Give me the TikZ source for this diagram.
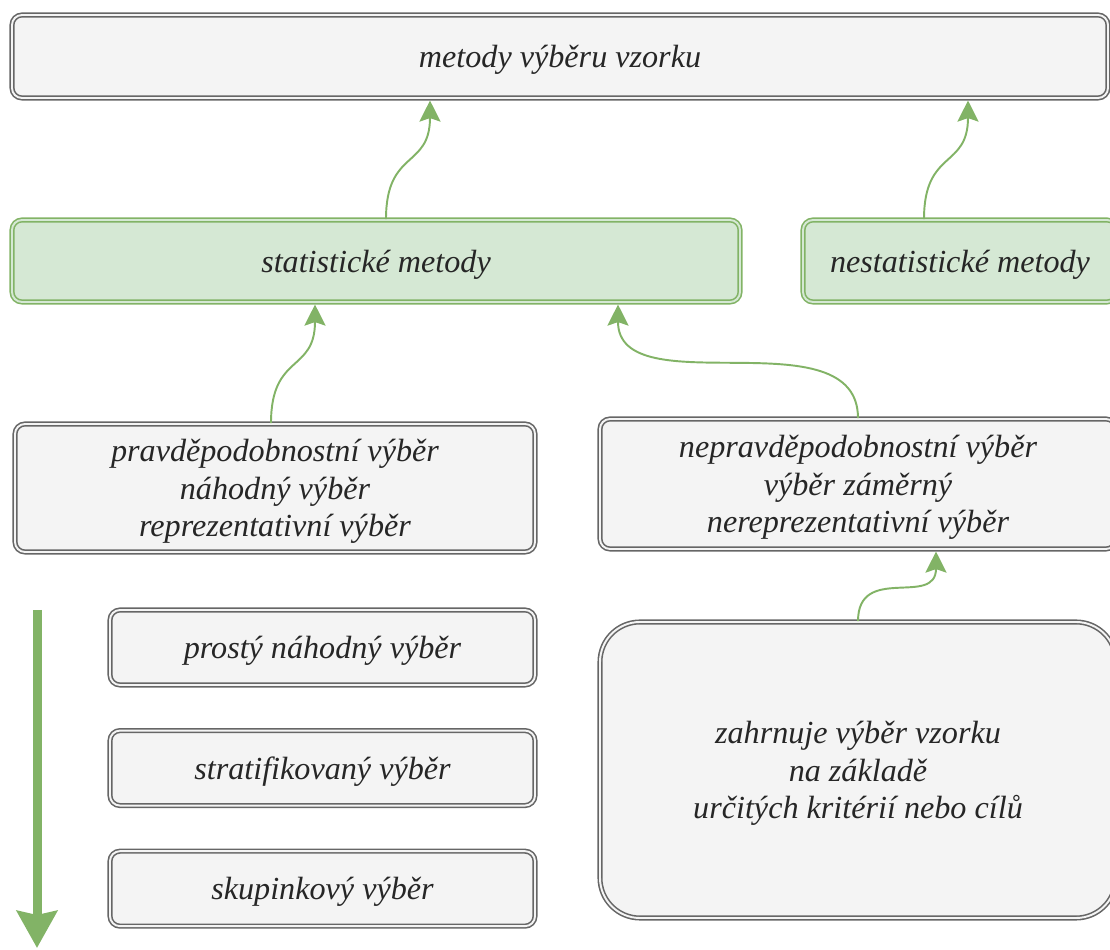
\documentclass[tikz,border=0pt]{standalone}
\usepackage{fontspec}
\setmainfont{Liberation Serif}
\usepackage{tikz}
\usetikzlibrary{positioning}
\usetikzlibrary{arrows.meta}

\definecolor{boxgray}{HTML}{F4F4F4}
\definecolor{linegray}{HTML}{666666}
\definecolor{boxgreen}{HTML}{D5E8D4}
\definecolor{linegreen}{HTML}{82B366}

\begin{document}
\begin{tikzpicture}[->,>={Stealth[length=12pt,width=12pt,inset=2pt]},shorten >=1pt,auto,node distance=0.88cm,
                    semithick]
\tikzstyle{box}=[draw=linegray,double=boxgray,double distance=1.1pt,line width=0.9pt,fill=boxgray,rounded corners=0.2cm,text=black!85,align=center,inner sep=2pt,text depth=0pt]
\tikzstyle{grbox}=[box,draw=linegreen,double=boxgreen,fill=boxgreen]
\tikzset{font=\fontsize{18.3pt}{21.5pt}\selectfont\itshape}

        \useasboundingbox (0,0) rectangle (22.2,19);

        \node[box,minimum width=21.92cm,minimum height=1.66cm]              (top)  at (11.2,17.87)   {metody výběru vzorku};

        \node[grbox,minimum width=14.56cm,minimum height=1.64cm]            (st)   at (7.52,13.78)   {statistické metody};
        \node[grbox,minimum width=6.28cm,minimum height=1.64cm]             (nst)  at (19.2,13.78)   {nestatistické metody};

        \node[box,minimum width=10.4cm,minimum height=2.56cm]               (p)    at (5.5,9.24)     {pravděpodobnostní výběr\\náhodný výběr\\reprezentativní výběr};
        \node[box,minimum width=10.32cm,minimum height=2.6cm]               (np)   at (17.16,9.32)   {nepravděpodobnostní výběr\\výběr záměrný\\nereprezentativní výběr};

        \node[box,minimum width=8.5cm,minimum height=1.5cm]                 (p1)   at (6.45,6.05)    {prostý náhodný výběr};
        \node[box,minimum width=8.5cm,minimum height=1.5cm]                 (p2)   [below=of p1]     {stratifikovaný výběr};
        \node[box,minimum width=8.5cm,minimum height=1.5cm]                 (p3)   [below=of p2]     {skupinkový výběr};

        \node[box,rounded corners=0.8cm,minimum width=10.32cm,minimum height=5.92cm] (k) at (17.16,3.6) {zahrnuje výběr vzorku\\na základě\\určitých kritérií nebo cílů};

        \coordinate (a0) at (0.74,6.8);
        \coordinate (a1) at (0.74,0.04);

        \path[color=linegreen,line width=1.1pt]
        ([xshift=0.2cm]st.north)    edge[out=90,in=-90,looseness=1.4]  ([xshift=-2.6cm]top.south)
        ([xshift=-0.72cm]nst.north) edge[out=90,in=-90,looseness=1.4]  ([xshift=8.16cm]top.south)
        ([xshift=-0.08cm]p.north)   edge[out=90,in=-90,looseness=1.4]  ([xshift=-1.22cm]st.south)
        (np.north)                  edge[out=90,in=-90]                ([xshift=4.84cm]st.south)
        (k.north)                   edge[out=90,in=-90,looseness=1.4]  ([xshift=1.56cm]np.south)
        ; %end path

        \draw[-{Stealth[length=0.74cm,width=0.8cm,inset=0.08cm]},color=linegreen,line width=0.18cm,shorten >=0pt] (a0) -- (a1);

\end{tikzpicture}
\end{document}
